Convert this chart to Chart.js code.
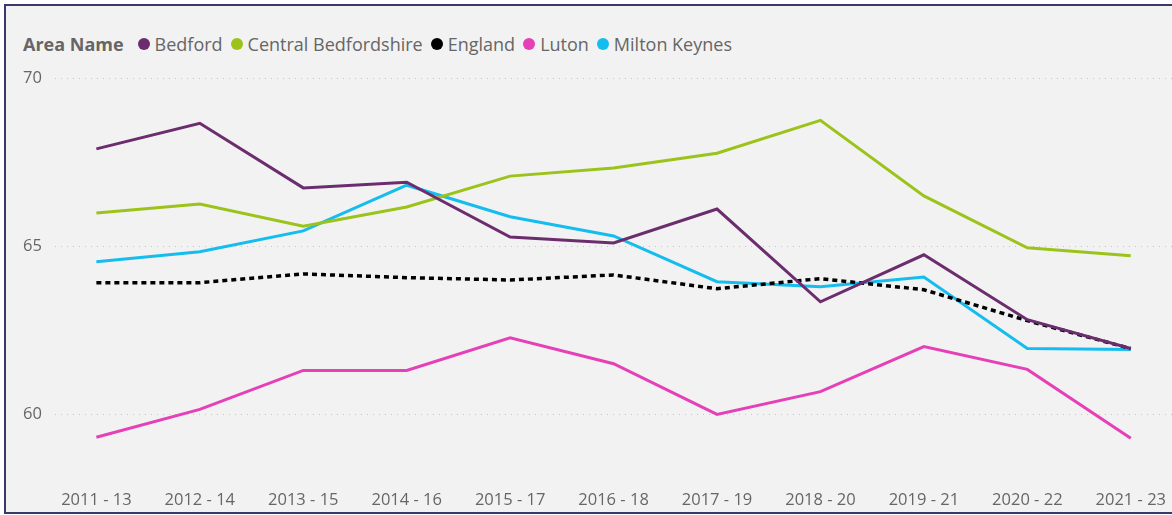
<!doctype html>
<html lang="en">
    <head>
        <meta charset="utf-8">
        <script src="https://cdn.jsdelivr.net/npm/chart.js"></script>
        <title>Area Name</title>
        <style>
        html, body {
            margin: 0;
            padding: 0;
            background-color: #ffffff;
            overflow: hidden;
        }
        #frame {
            position: absolute;
            left: 4px;
            top: 4px;
            width: 1180px;
            height: 506px;
            border: 2px solid #3a3a6a;
            background-color: #f2f2f2;
            overflow: hidden;
            font-family: "Open Sans", "Segoe UI", sans-serif;
        }
        #legend {
            position: absolute;
            left: 17px;
            top: 26px;
            display: flex;
            align-items: center;
            font-size: 18px;
            color: #666666;
            white-space: nowrap;
        }
        #legend .title {
            font-weight: bold;
            color: #666666;
            margin-right: 14px;
        }
        #legend .item {
            display: flex;
            align-items: center;
            margin-right: 8px;
        }
        #legend .dot {
            width: 12px;
            height: 12px;
            border-radius: 50%;
            margin-right: 5px;
        }
        #wrap {
            position: absolute;
            left: 1px;
            top: 51px;
            width: 1177px;
            height: 471px;
        }
        </style>
    </head>
    <body>
        <div id="frame">
            <div id="legend"><span class="title">Area Name</span></div>
            <div id="wrap"><canvas id="chart"></canvas></div>
        </div>
        <script>
        const periods = ['2011 - 13', '2012 - 14', '2013 - 15', '2014 - 16', '2015 - 17', '2016 - 18',
                         '2017 - 19', '2018 - 20', '2019 - 21', '2020 - 22', '2021 - 23'];
        const seriesNames = ['Bedford', 'Central Bedfordshire', 'England', 'Luton', 'Milton Keynes'];
        const bedford = [67.9, 68.66, 66.74, 66.91, 65.28, 65.1, 66.11, 63.35, 64.75, 62.82, 61.96];
        const centralBeds = [65.99, 66.26, 65.6, 66.17, 67.09, 67.33, 67.77, 68.75, 66.5, 64.96, 64.72];
        const england = [63.92, 63.92, 64.18, 64.07, 64.0, 64.15, 63.74, 64.04, 63.71, 62.79, 61.96];
        const luton = [59.32, 60.15, 61.31, 61.31, 62.28, 61.51, 60.0, 60.68, 62.02, 61.34, 59.29];
        const miltonKeynes = [64.54, 64.84, 65.46, 66.82, 65.88, 65.31, 63.95, 63.8, 64.09, 61.96, 61.93];
        const yTicks = [60, 65, 70];

        const colours = ['#6b2d6e', '#9bc31a', '#000000', '#e540b7', '#15bdee'];
        const values = [bedford, centralBeds, england, luton, miltonKeynes];
        const tickFont = { family: '"Open Sans", "Segoe UI", sans-serif', size: 16.5 };

        // legend in html so the bold "Area Name" can sit on the same line
        const legend = document.getElementById('legend');
        seriesNames.forEach(function (name, i) {
            const item = document.createElement('span');
            item.className = 'item';
            item.innerHTML = '<span class="dot" style="background:' + colours[i] + '"></span>' + name;
            legend.appendChild(item);
        });

        const datasets = seriesNames.map(function (name, i) {
            const dotted = name === 'England';
            return {
                label: name,
                data: values[i].map(function (v, j) { return { x: j, y: v }; }),
                borderColor: colours[i],
                backgroundColor: colours[i],
                borderWidth: dotted ? 3.5 : 3,
                borderDash: dotted ? [5, 4] : [],
                pointRadius: 0,
                tension: 0
            };
        });

        new Chart(document.getElementById('chart'), {
            type: 'line',
            data: { datasets: datasets },
            options: {
                responsive: true,
                maintainAspectRatio: false,
                animation: false,
                layout: { padding: { left: 16, top: 0, right: 0, bottom: 0 } },
                plugins: {
                    legend: { display: false },
                    tooltip: { enabled: false }
                },
                scales: {
                    x: {
                        type: 'linear',
                        min: -0.4,
                        max: 10.4,
                        grid: { display: false },
                        border: { display: false },
                        afterBuildTicks: function (axis) {
                            axis.ticks = periods.map(function (p, j) { return { value: j }; });
                        },
                        ticks: {
                            padding: 18,
                            color: '#666666',
                            font: tickFont,
                            maxRotation: 0,
                            autoSkip: false,
                            callback: function (v) { return periods[v]; }
                        }
                    },
                    y: {
                        min: 58.52,
                        max: 70.25,
                        afterBuildTicks: function (axis) {
                            axis.ticks = yTicks.map(function (v) { return { value: v }; });
                        },
                        afterFit: function (axis) { axis.width = 32; },
                        grid: {
                            color: '#c4c4c4',
                            lineWidth: 1,
                            drawTicks: false
                        },
                        border: { display: false, dash: [1, 5] },
                        ticks: {
                            crossAlign: 'far',
                            color: '#666666',
                            font: tickFont
                        }
                    }
                }
            }
        });
        </script>
    </body>
</html>
